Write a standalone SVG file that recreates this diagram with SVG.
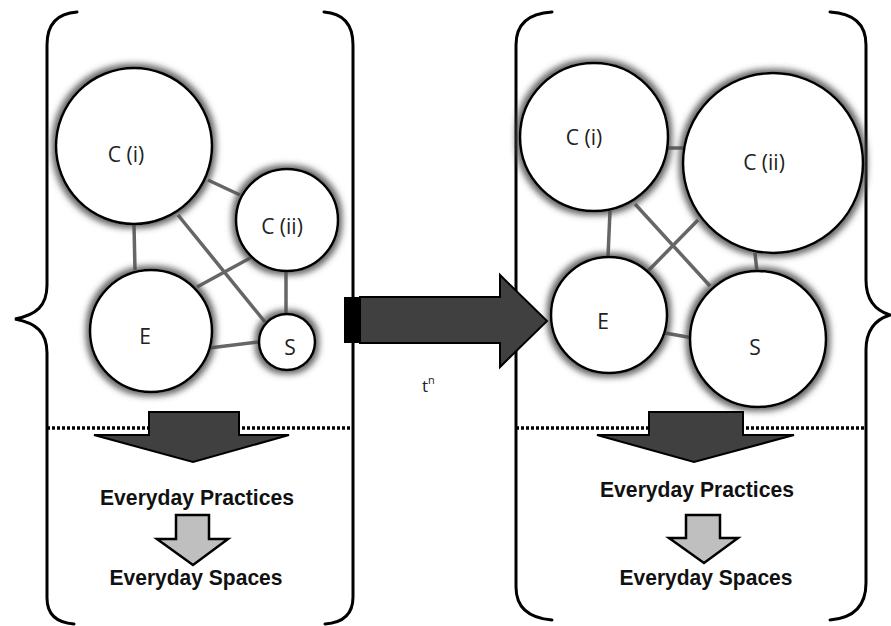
<svg xmlns="http://www.w3.org/2000/svg" width="891" height="626" viewBox="0 0 891 626">
<defs>
<filter id="glow" x="-30%" y="-30%" width="160%" height="160%">
<feMorphology in="SourceAlpha" operator="dilate" radius="2.5" result="d"/>
<feGaussianBlur in="d" stdDeviation="3.2" result="b"/>
<feFlood flood-color="#4a4a4a" flood-opacity="0.85"/>
<feComposite in2="b" operator="in" result="s"/>
<feMerge><feMergeNode in="s"/><feMergeNode in="SourceGraphic"/></feMerge>
</filter>
<style>
.br{fill:none;stroke:#000;stroke-width:3;stroke-linecap:round}
.node circle{fill:#fff;stroke:#000;stroke-width:2.5}
.lbl{font-family:"Open Sans","Liberation Sans",sans-serif;font-size:21px;fill:#222;text-anchor:middle}
.edge{stroke:#666;stroke-width:3.5;fill:none}
.dot{stroke:#000;stroke-width:3.5;stroke-dasharray:3 2;fill:none}
.bigdown{fill:#404040;stroke:#000;stroke-width:2}
.smalldown{fill:#bfbfbf;stroke:#000;stroke-width:2.5}
.cap{font-family:"Liberation Sans",Arial,sans-serif;font-weight:bold;font-size:22px;fill:#111;text-anchor:middle}
</style>
</defs>
<rect width="891" height="626" fill="#fff"/>

<g id="left-bracket">
<path class="br" d="M77,12 Q47,14 47,45 L47,285 C47,306 36,315 15,319 C36,323 47,332 47,353 L47,598 Q47,622 74,624"/>
<path class="br" d="M324,12 Q353,14 353,45 L353,597 Q353,622 325,624"/>
</g>
<g id="right-bracket">
<path class="br" d="M552,12 Q516,14 516,45 L516,587 Q516,617 552,620"/>
<path class="br" d="M830,12 Q866,14 866,45 L866,280 C866,301 877,311 890,315 C877,319 866,329 866,350 L866,583 Q866,617 830,620"/>
</g>

<g id="connectors">
<line class="edge" x1="208" y1="180" x2="240" y2="195"/>
<line class="edge" x1="134" y1="225" x2="135" y2="270"/>
<line class="edge" x1="178" y1="215" x2="265" y2="322"/>
<line class="edge" x1="252" y1="257" x2="197" y2="287"/>
<line class="edge" x1="286" y1="270" x2="286" y2="315"/>
<line class="edge" x1="209" y1="348" x2="259" y2="342"/>
<line class="edge" x1="666" y1="148" x2="685" y2="148"/>
<line class="edge" x1="610" y1="211" x2="608" y2="257"/>
<line class="edge" x1="635" y1="204" x2="710" y2="286"/>
<line class="edge" x1="698" y1="220" x2="648" y2="271"/>
<line class="edge" x1="755" y1="253" x2="757" y2="272"/>
<line class="edge" x1="665" y1="333" x2="693" y2="338"/>
</g>

<g id="L-Ci" class="node"><circle cx="134" cy="146" r="78" filter="url(#glow)"/><text class="lbl" x="126" y="162">C (i)</text></g>
<g id="L-Cii" class="node"><circle cx="287" cy="220" r="51" filter="url(#glow)"/><text class="lbl" x="282" y="234">C (ii)</text></g>
<g id="L-E" class="node"><circle cx="151" cy="331" r="61" filter="url(#glow)"/><text class="lbl" x="145" y="344">E</text></g>
<g id="L-S" class="node"><circle cx="287" cy="342" r="28" filter="url(#glow)"/><text class="lbl" x="290" y="355">S</text></g>

<g id="R-Ci" class="node"><circle cx="594" cy="137" r="74" filter="url(#glow)"/><text class="lbl" x="584" y="145">C (i)</text></g>
<g id="R-Cii" class="node"><circle cx="773" cy="163" r="90" filter="url(#glow)"/><text class="lbl" x="764" y="170">C (ii)</text></g>
<g id="R-E" class="node"><circle cx="609" cy="315" r="58" filter="url(#glow)"/><text class="lbl" x="603" y="329">E</text></g>
<g id="R-S" class="node"><circle cx="758" cy="339" r="68" filter="url(#glow)"/><text class="lbl" x="755" y="355">S</text></g>

<g id="time-arrow">
<rect x="344" y="297" width="16" height="46" fill="#000"/>
<polygon points="360,297 500,297 500,275 547,321 500,367 500,343 360,343" fill="#404040" stroke="#000" stroke-width="2"/>
<text x="422" y="392" font-family="'Open Sans','Liberation Sans',sans-serif" font-size="17" fill="#222">t<tspan font-size="11" dy="-8">n</tspan></text>
</g>

<g id="left-lower">
<line class="dot" x1="47" y1="428" x2="353" y2="428"/>
<polygon class="bigdown" points="149,412 239,412 239,435 289,435 193,462 94,435 149,435"/>
<text class="cap" x="197" y="505" textLength="194" lengthAdjust="spacingAndGlyphs">Everyday Practices</text>
<polygon class="smalldown" points="176,515 209,515 209,539 228,539 193,565 157,539 176,539"/>
<text class="cap" x="196" y="585" textLength="173" lengthAdjust="spacingAndGlyphs">Everyday Spaces</text>
</g>

<g id="right-lower">
<line class="dot" x1="516" y1="428" x2="866" y2="428"/>
<polygon class="bigdown" points="649,412 743,412 743,435 794,435 694,462 597,435 649,435"/>
<text class="cap" x="697" y="497" textLength="194" lengthAdjust="spacingAndGlyphs">Everyday Practices</text>
<polygon class="smalldown" points="686,515 720,515 720,538 738,538 704,563 669,538 686,538"/>
<text class="cap" x="706" y="585" textLength="173" lengthAdjust="spacingAndGlyphs">Everyday Spaces</text>
</g>
</svg>
